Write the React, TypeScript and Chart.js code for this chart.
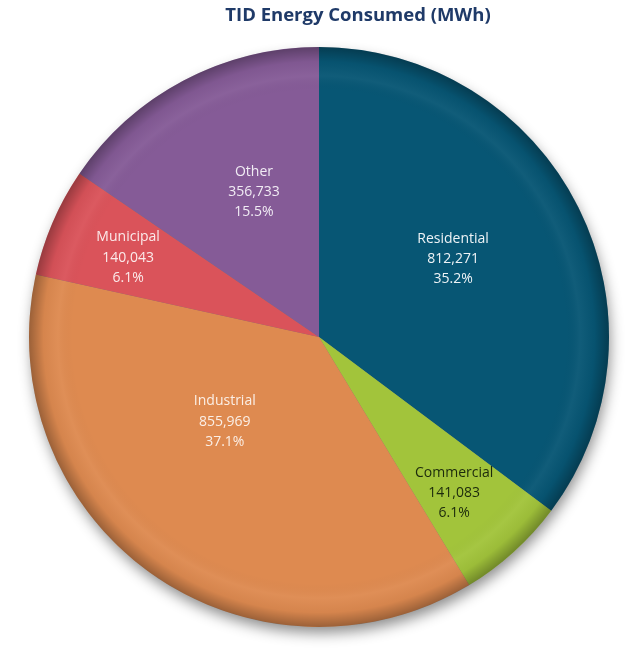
import React, { useEffect, useRef } from "react";
import { Chart, registerables } from "chart.js";

Chart.register(...registerables);

const TITLE = "TID Energy Consumed (MWh)";
const categories = ["Residential", "Commercial", "Industrial", "Municipal", "Other"];
const values = [812271, 141083, 855969, 140043, 356733];
const colors = ["#075674", "#a2c43b", "#de8a50", "#da535a", "#855b97"];
const labelColors = ["#eef3f6", "#1c2a0c", "#fbefe6", "#fbeaea", "#f1ecf4"];
const labelRadius = [0.535, 0.712, 0.437, 0.713, 0.548];
const labelAngleShift = [-3.6, 1.3, 12.4, -0.8, 3.7];

const total = values.reduce((a, b) => a + b, 0);
const fmt = (v: number) => v.toLocaleString("en-US");
const pct = (v: number) => ((v / total) * 100).toFixed(1) + "%";

const shadowPlugin = {
  id: "pieShadow",
  beforeDatasetsDraw(chart: any) {
    const arc = chart.getDatasetMeta(0).data[0];
    if (!arc) return;
    const { x, y, outerRadius } = arc;
    const ctx = chart.ctx;
    ctx.save();
    ctx.shadowColor = "rgba(0,0,0,0.45)";
    ctx.shadowBlur = 14;
    ctx.shadowOffsetX = 2;
    ctx.shadowOffsetY = 7;
    ctx.fillStyle = "#777";
    ctx.beginPath();
    ctx.arc(x, y, outerRadius - 1, 0, Math.PI * 2);
    ctx.fill();
    ctx.restore();
  },
  afterDatasetsDraw(chart: any) {
    const meta = chart.getDatasetMeta(0);
    const arc0 = meta.data[0];
    if (!arc0) return;
    const { x, y, outerRadius } = arc0;
    const ctx = chart.ctx;
    ctx.save();
    const g = ctx.createRadialGradient(x, y, 0, x, y, outerRadius);
    g.addColorStop(0, "rgba(0,0,0,0)");
    g.addColorStop(0.85, "rgba(0,0,0,0)");
    g.addColorStop(0.9, "rgba(255,255,255,0.04)");
    g.addColorStop(0.95, "rgba(0,0,0,0.04)");
    g.addColorStop(1, "rgba(0,0,0,0.3)");
    ctx.fillStyle = g;
    ctx.beginPath();
    ctx.arc(x, y, outerRadius, 0, Math.PI * 2);
    ctx.fill();
    ctx.restore();

    ctx.save();
    ctx.font = "14px 'Open Sans', sans-serif";
    ctx.textAlign = "center";
    ctx.textBaseline = "middle";
    meta.data.forEach((a: any, i: number) => {
      const mid = (a.startAngle + a.endAngle) / 2 + (labelAngleShift[i] * Math.PI) / 180;
      const r = a.outerRadius * labelRadius[i];
      const cx = a.x + Math.cos(mid) * r;
      const cy = a.y + Math.sin(mid) * r;
      ctx.fillStyle = labelColors[i];
      const lines = [categories[i], fmt(values[i]), pct(values[i])];
      lines.forEach((t, k) => ctx.fillText(t, cx, cy + (k - 1) * 20.3));
    });
    ctx.restore();

    ctx.save();
    ctx.font = "bold 18.5px 'Open Sans', sans-serif";
    ctx.fillStyle = "#1f3a68";
    ctx.textAlign = "center";
    ctx.textBaseline = "middle";
    ctx.fillText(TITLE, 358, 16);
    ctx.restore();
  },
};

export default function App() {
  const ref = useRef<HTMLCanvasElement | null>(null);
  useEffect(() => {
    if (!ref.current) return;
    const chart = new Chart(ref.current, {
      type: "pie",
      data: {
        labels: categories,
        datasets: [
          {
            data: values,
            backgroundColor: colors,
            borderWidth: 0,
          },
        ],
      },
      options: {
        animation: false,
        responsive: false,
        maintainAspectRatio: false,
        layout: { padding: { left: 29, right: 18, top: 47, bottom: 21 } },
        plugins: {
          legend: { display: false },
          tooltip: { enabled: false },
          title: { display: false },
        },
      },
      plugins: [shadowPlugin],
    } as any);
    return () => chart.destroy();
  }, []);
  return (
    <div style={{ position: "absolute", left: 0, top: 0, width: 627, height: 648, background: "#fff" }}>
      <canvas ref={ref} width={627} height={648} style={{ width: 627, height: 648 }} />
    </div>
  );
}
